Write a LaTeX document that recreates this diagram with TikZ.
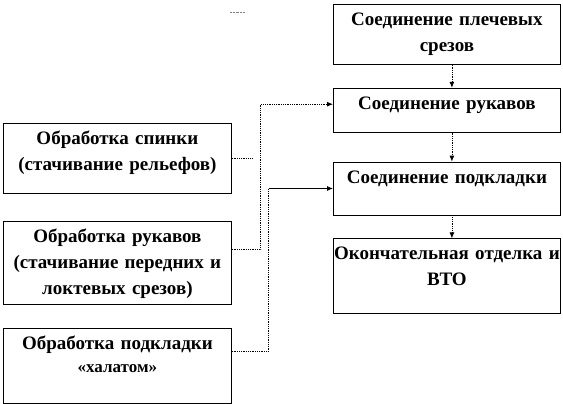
\documentclass[tikz,border=0pt]{standalone}
\usepackage{fontspec}
\setmainfont{Liberation Serif}
\usetikzlibrary{arrows.meta,positioning}

\begin{document}
\begin{tikzpicture}[
    x=1pt, y=-1pt,
    >={Latex[length=6pt,width=5pt]},
    node distance=23pt,
    every node/.style={font=\fontsize{19}{26}\selectfont\bfseries},
    bx/.style={draw, line width=0.8pt, text width=227pt, align=center, inner sep=0pt, text height=21pt},
    lnk/.style={densely dotted, line width=0.8pt},
  ]
    \useasboundingbox (0,0) rectangle (563,404);
    % right column
    \node[bx, text depth=39pt, anchor=north west] (shl) at (333,4) {Соединение плечевых\\срезов};
    \node[bx, text depth=23pt, below=of shl] (ruk) {Соединение рукавов};
    \node[bx, text depth=32pt, below=29pt of ruk] (podk) {Соединение подкладки};
    \node[bx, text depth=54pt, below=of podk] (vto) {Окончательная отделка и\\ВТО};
    % left column
    \node[bx, text width=228pt, text depth=49pt, anchor=north west] (spin) at (3,123) {Обработка спинки\\(стачивание рельефов)};
    \node[bx, text width=228pt, text depth=62pt, below=27pt of spin] (obruk) {Обработка рукавов\\(стачивание передних и\\локтевых срезов)};
    \node[bx, text width=228pt, text depth=54pt, below=of obruk] (obpodk) {Обработка подкладки\\[-3pt]{\fontsize{17}{20}\selectfont«халатом»}};
    % connectors
    \draw[lnk, ->] ([xshift=5pt]shl.south) -- ([xshift=5pt]ruk.north);
    \draw[lnk, ->] ([xshift=5pt]ruk.south) -- ([xshift=5pt]podk.north);
    \draw[lnk, ->] ([xshift=5pt]podk.south) -- ([xshift=5pt]vto.north);
    \coordinate (stub) at ([xshift=20pt]spin.east);
    \draw[lnk] (spin.east) -- (stub);
    \draw[lnk, ->] ([yshift=13.5pt]obruk.east) -- ++(29,0) |- ([yshift=6pt]ruk.west);
    \coordinate (knee) at ([xshift=37pt,yshift=14.5pt]obpodk.east);
    \draw[lnk] ([yshift=14.5pt]obpodk.east) -- (knee) -- (knee |- podk.west);
    \draw[->, line width=0.8pt] (knee |- podk.west) -- (podk.west);
    % stray mark
    \coordinate (m1) at (230,12);
    \coordinate (m2) at (245,12);
    \draw[densely dotted, gray] (m1) -- (m2);
\end{tikzpicture}
\end{document}
